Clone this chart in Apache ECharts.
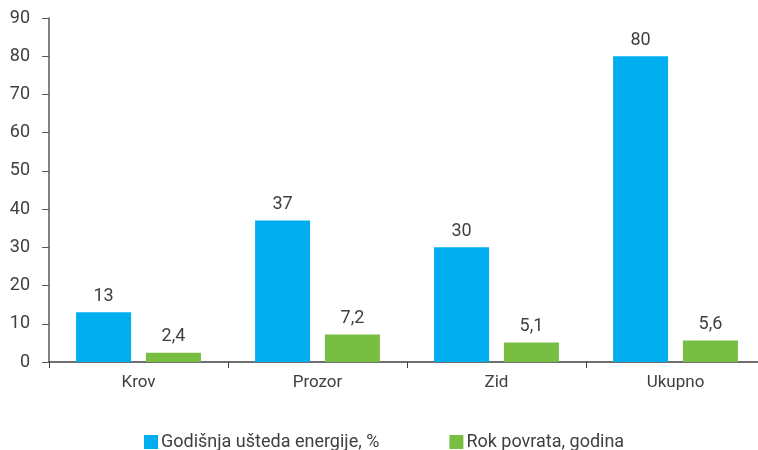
<!DOCTYPE html>
<html>
<head>
<meta charset="utf-8">
<script src="https://cdn.jsdelivr.net/npm/echarts@6/dist/echarts.min.js"></script>
<style>
	html, body { margin: 0; padding: 0; background: #fff; }
	#chart { width: 758px; height: 450px; }
</style>
</head>
<body>
<div id="chart"></div>
<script>
var categories = ['Krov', 'Prozor', 'Zid', 'Ukupno'];
var ustedaValues = [13, 37, 30, 80];
var povratValues = [2.4, 7.2, 5.1, 5.6];
var seriesNames = ['Godišnja ušteda energije, %', 'Rok povrata, godina'];

var font = 'Roboto, "Liberation Sans", sans-serif';
var chart = echarts.init(document.getElementById('chart'));
chart.setOption({
	animation: false,
	textStyle: { fontFamily: font, color: '#404040' },
	grid: { left: 49, top: 18, width: 716, height: 344, outerBoundsMode: 'none', containLabel: false },
	legend: {
		data: seriesNames,
		top: 428,
		left: 139,
		itemWidth: 14,
		itemHeight: 14,
		itemGap: 70,
		icon: 'rect',
		textStyle: { fontFamily: font, fontSize: 18, color: '#404040', padding: [0, 0, 0, -2] }
	},
	xAxis: {
		type: 'category',
		data: categories,
		axisLine: { lineStyle: { color: '#404040', width: 1.5 } },
		axisTick: { show: true, length: 6, alignWithLabel: false, lineStyle: { color: '#404040' } },
		axisLabel: { fontSize: 17, color: '#404040', margin: 12, fontFamily: font }
	},
	yAxis: {
		type: 'value',
		min: 0,
		max: 90,
		interval: 10,
		splitLine: { show: false },
		axisLine: { show: true, lineStyle: { color: '#595959', width: 1.5 } },
		axisTick: { show: true, length: 7, lineStyle: { color: '#595959' } },
		axisLabel: { fontSize: 18, color: '#404040', margin: 19, fontFamily: font }
	},
	series: [
		{
			name: seriesNames[0],
			type: 'bar',
			data: ustedaValues,
			barWidth: 55,
			barGap: '27%',
			itemStyle: { color: '#00AEEF' },
			label: { show: true, position: 'top', fontSize: 18, color: '#404040', distance: 7, fontFamily: font }
		},
		{
			name: seriesNames[1],
			type: 'bar',
			data: povratValues,
			barWidth: 55,
			itemStyle: { color: '#77BE43' },
			label: {
				show: true, position: 'top', fontSize: 18, color: '#404040', distance: 7, fontFamily: font,
				formatter: function (p) { return String(p.value).replace('.', ','); }
			}
		}
	]
});
</script>
</body>
</html>
